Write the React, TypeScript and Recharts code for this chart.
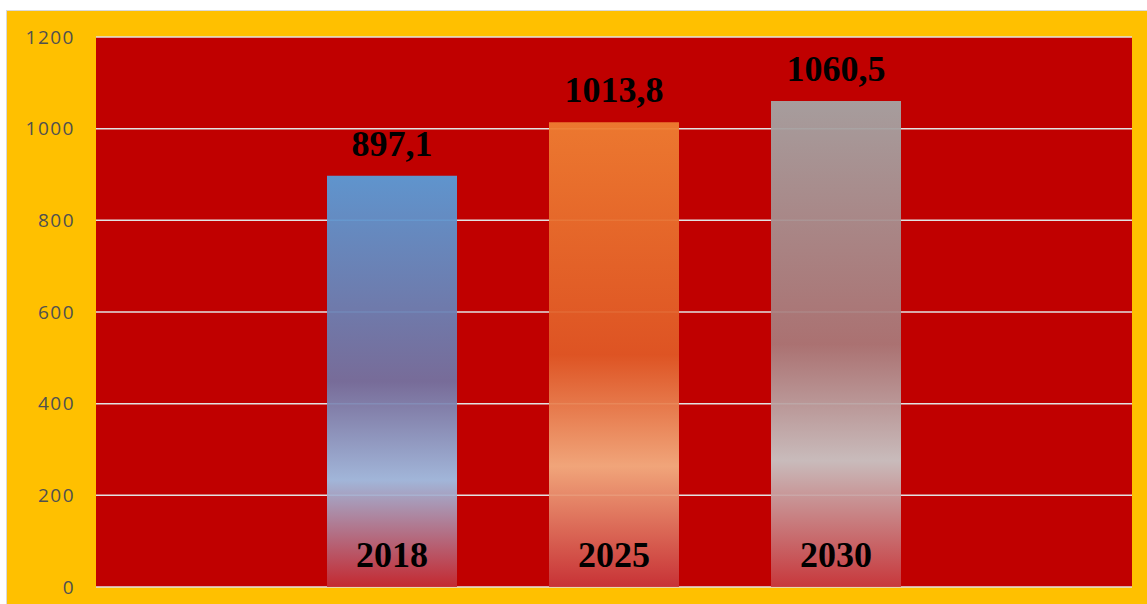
import { BarChart, Bar, XAxis, YAxis, CartesianGrid, Cell, LabelList } from 'recharts';

// Data
const years = ['2018', '2025', '2030'];
const values = [897.1, 1013.8, 1060.5];
const yTicks = [0, 200, 400, 600, 800, 1000, 1200];

// gradient stops per bar: top, middle, light band, bottom
const barGradients = [
    ['#5A9CD8', '#7274A4', '#9FC3E9', '#C42C34'],
    ['#EE7E32', '#E05A26', '#F4B183', '#C8363A'],
    ['#A5A5A5', '#A97A7A', '#C9C9C9', '#C83C40'],
];

const rows = years.map((y, i) => ({ year: y, value: values[i] }));

const fmt = (v: number) => v.toFixed(1).replace('.', ',');

function YearLabel(props: any) {
    const { x, y, width, height, value } = props;
    return (
        <text
            x={x + width / 2}
            y={y + height - 20}
            textAnchor="middle"
            fontFamily="'Liberation Serif', serif"
            fontWeight={700}
            fontSize={36}
            fill="#000"
        >
            {value}
        </text>
    );
}

export default function App() {
    return (
        <div style={{ position: 'fixed', left: 0, top: 0, width: 1147, height: 604, background: '#fff', overflow: 'hidden' }}>
            <div
                style={{
                    position: 'absolute',
                    left: 6,
                    top: 10,
                    right: 0,
                    bottom: 0,
                    background: '#FFC000',
                    borderTop: '1px solid #D9D9D9',
                    borderLeft: '1px solid #D9D9D9',
                }}
            />
            <div style={{ position: 'absolute', left: 0, top: 0 }}>
                <BarChart
                    width={1147}
                    height={604}
                    data={rows}
                    margin={{ top: 37, right: 15, bottom: 17, left: 0 }}
                >
                    <defs>
                        {barGradients.map((g, i) => (
                            <linearGradient key={i} id={`bar-grad-${i}`} x1="0" y1="0" x2="0" y2="1">
                                <stop offset="0%" stopColor={g[0]} stopOpacity={0.95} />
                                <stop offset="50%" stopColor={g[1]} stopOpacity={0.93} />
                                <stop offset="74%" stopColor={g[2]} stopOpacity={0.93} />
                                <stop offset="100%" stopColor={g[3]} stopOpacity={0.93} />
                            </linearGradient>
                        ))}
                    </defs>
                    <CartesianGrid vertical={false} fill="#C00000" stroke="#E2E2E2" strokeWidth={1.5} />
                    <XAxis dataKey="year" hide padding={{ left: 185, right: 185 }} />
                    <YAxis
                        width={96}
                        domain={[0, 1200]}
                        ticks={yTicks}
                        axisLine={false}
                        tickLine={false}
                        tickSize={0}
                        tickMargin={21}
                        tick={{ fill: '#505050', fontSize: 19, fontFamily: "'Open Sans', sans-serif", letterSpacing: 1.5 }}
                    />
                    <Bar dataKey="value" barSize={130} isAnimationActive={false}>
                        {rows.map((r, i) => (
                            <Cell key={r.year} fill={`url(#bar-grad-${i})`} />
                        ))}
                        <LabelList
                            dataKey="value"
                            position="top"
                            offset={20}
                            formatter={(v: any) => fmt(Number(v))}
                            style={{ fontFamily: "'Liberation Serif', serif", fontWeight: 700, fontSize: 36, fill: '#000' }}
                        />
                        <LabelList dataKey="year" content={<YearLabel />} />
                    </Bar>
                </BarChart>
            </div>
        </div>
    );
}
